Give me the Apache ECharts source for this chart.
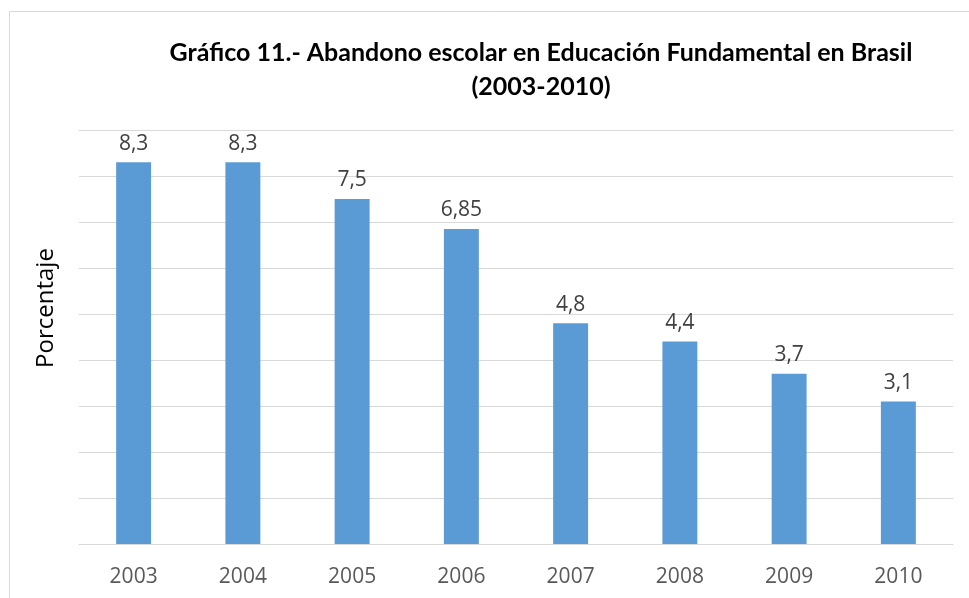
<!DOCTYPE html>
<html><head><meta charset="utf-8">
<script src="https://cdn.jsdelivr.net/npm/echarts@6/dist/echarts.min.js"></script>
<style>html,body{margin:0;padding:0;background:#fff}#c{width:969px;height:598px}</style>
</head><body><div id="c"></div>
<script>
const years = ['2003','2004','2005','2006','2007','2008','2009','2010'];
const abandono = [8.3, 8.3, 7.5, 6.85, 4.8, 4.4, 3.7, 3.1];
const yMin = 0, yMax = 9, yStep = 1;
const yName = 'Porcentaje';

const chart = echarts.init(document.getElementById('c'));
chart.setOption({
  animation: false,
  backgroundColor: '#fff',
  graphic: [{
    type: 'rect', shape: {x: 9.5, y: 11.5, width: 1000, height: 700},
    style: {fill: 'none', stroke: '#d9d9d9', lineWidth: 1}, silent: true
  }, {
    type: 'text', x: 46, y: 308, rotation: Math.PI / 2,
    style: {text: yName, fill: '#000', fontSize: 24, fontFamily: 'Open Sans',
      textAlign: 'center', textVerticalAlign: 'middle'}
  }],
  title: {
    text: 'Gráfico 11.- Abandono escolar en Educación Fundamental en Brasil\n(2003-2010)',
    left: 536, top: 31, textAlign: 'center',
    textStyle: {fontFamily: 'Lato', fontWeight: 'bold', fontSize: 25, color: '#000', lineHeight: 34}
  },
  grid: {left: 79, right: 16, top: 130, bottom: 54, containLabel: false},
  xAxis: {
    type: 'category', data: years,
    axisLine: {show: true, lineStyle: {color: '#d9d9d9', width: 1}},
    axisTick: {show: false},
    axisLabel: {color: '#595959', fontSize: 21, fontFamily: 'Open Sans', margin: 23}
  },
  yAxis: {
    type: 'value', min: yMin, max: yMax, interval: yStep,
    axisLine: {show: false}, axisTick: {show: false},
    axisLabel: {show: false},
    splitLine: {lineStyle: {color: '#d9d9d9', width: 1}}
  },
  series: [{
    type: 'bar', data: abandono, barWidth: '32%',
    itemStyle: {color: '#5b9bd5'},
    label: {
      show: true, position: 'top', distance: 8,
      color: '#404040', fontSize: 21, fontFamily: 'Open Sans',
      formatter: p => String(p.value).replace('.', ',')
    }
  }]
});
</script></body></html>
